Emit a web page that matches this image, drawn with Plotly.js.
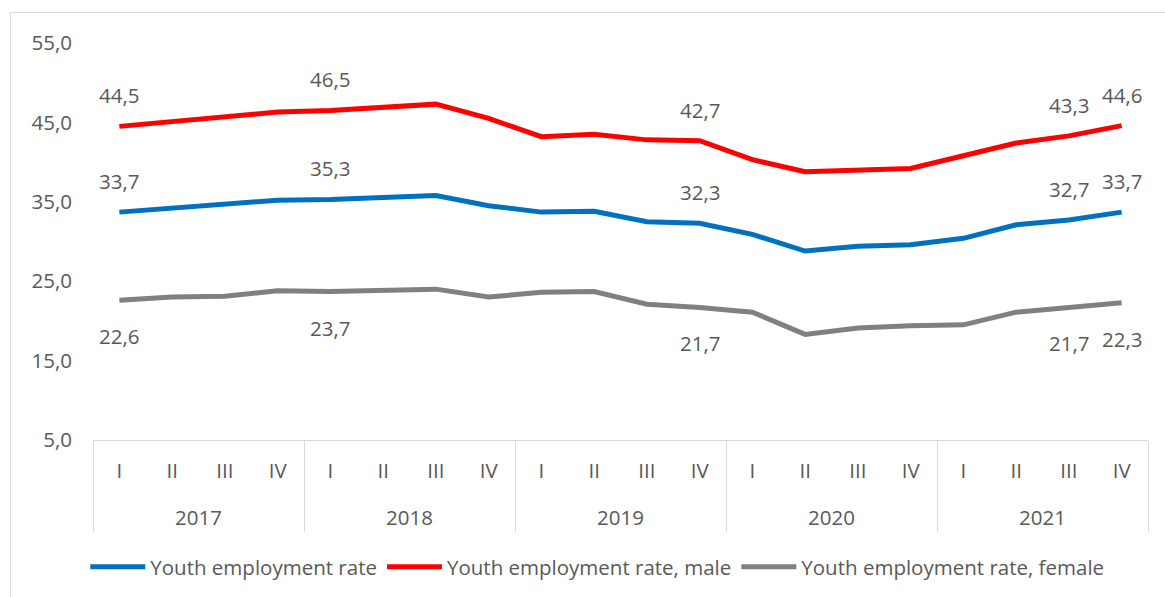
<!DOCTYPE html>
<html>
<head>
<meta charset="utf-8">
<script src="https://cdn.plot.ly/plotly-3.0.1.min.js"></script>
<style>
  html, body { margin: 0; padding: 0; background: #ffffff; }
  #wrap { position: relative; width: 1165px; height: 597px; overflow: hidden; }
  #frame { position: absolute; left: 10px; top: 12px; width: 1200px; height: 700px;
           border-left: 1px solid #d9d9d9; border-top: 1px solid #d9d9d9; }
  #chart { position: absolute; left: 0; top: 0; width: 1165px; height: 597px; }
</style>
</head>
<body>
<div id="wrap"><div id="frame"></div><div id="chart"></div></div>
<script>
const years = ['2017', '2018', '2019', '2020', '2021'];
const quarters = ['I', 'II', 'III', 'IV'];
const totalRate  = [33.7, 34.2, 34.6, 35.2, 35.3, 35.5, 35.8, 34.5, 33.7, 33.8, 32.5, 32.3, 30.9, 28.8, 29.4, 29.6, 30.4, 32.1, 32.7, 33.7];
const maleRate   = [44.5, 45.1, 45.6, 46.3, 46.5, 46.9, 47.3, 45.5, 43.2, 43.5, 42.8, 42.7, 40.3, 38.8, 39.0, 39.2, 40.8, 42.4, 43.3, 44.6];
const femaleRate = [22.6, 23.0, 23.1, 23.8, 23.7, 23.8, 24.0, 23.0, 23.6, 23.7, 22.1, 21.7, 21.1, 18.3, 19.1, 19.4, 19.5, 21.1, 21.7, 22.3];
const labeledIdx = [0, 4, 11, 18, 19];
const seriesNames = ['Youth employment rate', 'Youth employment rate, male', 'Youth employment rate, female'];

const xOuter = [], xInner = [], idx = [];
years.forEach(y => quarters.forEach(q => {
  xOuter.push(y);
  // extra blank line pushes the year row down, like the reference's two-row axis
  xInner.push(q + '<br><span style="font-size:30px">&nbsp;</span>');
  idx.push(idx.length);
}));

const FONT = '"Open Sans", "Noto Sans", sans-serif';
const TXT = '#595959';
const FS = 20.5;

const series = [
  {name: seriesNames[0], y: totalRate, color: '#0070C0', shift: 31},
  {name: seriesNames[1], y: maleRate, color: '#FF0000', shift: 31},
  {name: seriesNames[2], y: femaleRate, color: '#808080', shift: -36}
];

const traces = series.map(s => ({
  type: 'scatter', mode: 'lines', name: s.name,
  x: [xOuter, xInner], y: s.y,
  line: {color: s.color, width: 5},
  hoverinfo: 'skip'
}));
traces.push({type: 'scatter', mode: 'markers', x: idx, y: totalRate, xaxis: 'x2', yaxis: 'y',
  marker: {opacity: 0}, showlegend: false, hoverinfo: 'skip'});

const annotations = [];
series.forEach(s => {
  labeledIdx.forEach(i => {
    annotations.push({
      xref: 'x2', yref: 'y', x: i, y: s.y[i],
      text: s.y[i].toFixed(1).replace('.', ','),
      showarrow: false, yshift: s.shift,
      font: {family: FONT, size: FS, color: TXT}
    });
  });
});

const layout = {
  width: 1165, height: 597,
  margin: {l: 93, r: 17, t: 43, b: 157, autoexpand: false},
  paper_bgcolor: 'rgba(0,0,0,0)', plot_bgcolor: 'rgba(0,0,0,0)',
  separators: ', ',
  font: {family: FONT, size: FS, color: TXT},
  showlegend: true,
  legend: {orientation: 'h', x: 0.478, xanchor: 'center', xref: 'paper',
           y: -0.32, yanchor: 'middle', font: {family: FONT, size: FS, color: TXT},
           itemwidth: 55, tracegroupgap: 0},
  xaxis: {
    type: 'multicategory', showline: true, linecolor: '#d9d9d9', linewidth: 1,
    showgrid: false, zeroline: false, ticks: '', automargin: false,
    showdividers: true, dividercolor: '#d9d9d9', dividerwidth: 1,
    tickfont: {family: FONT, size: FS, color: TXT},
    ticklabelstandoff: 12,
    range: [-0.5, 19.5]
  },
  xaxis2: {overlaying: 'x', range: [-0.5, 19.5], visible: false, fixedrange: true},
  yaxis: {
    range: [5, 55], dtick: 10, tick0: 5, tickformat: '.1f', automargin: false,
    showgrid: false, zeroline: false, showline: false, ticks: '',
    tickfont: {family: FONT, size: FS, color: TXT}, ticklabelstandoff: 20
  },
  annotations: annotations
};

Plotly.newPlot('chart', traces, layout, {staticPlot: true});
</script>
</body>
</html>
